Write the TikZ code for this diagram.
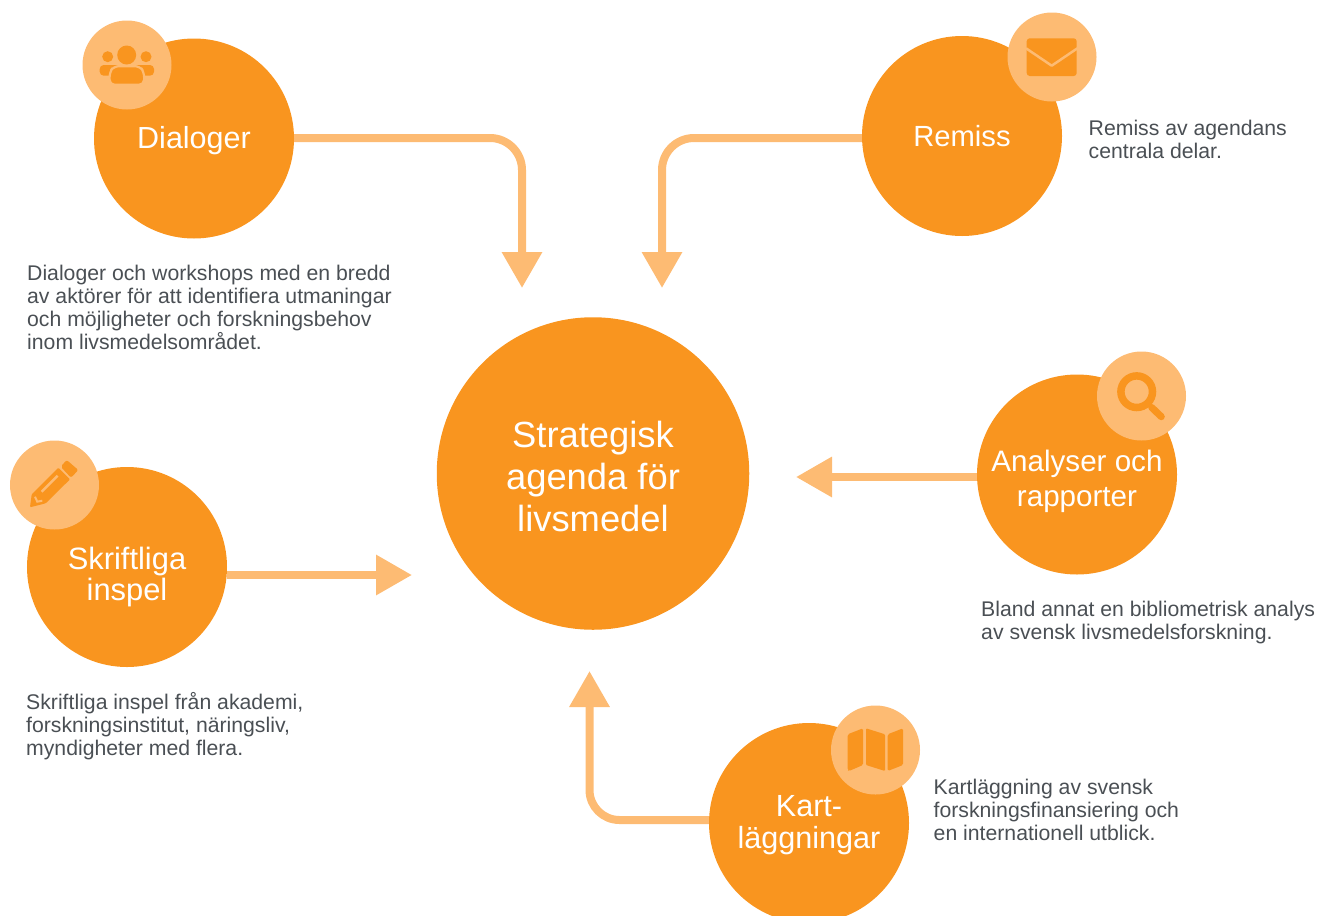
\documentclass[tikz,border=0pt]{standalone}
\usepackage{fontspec}
\setmainfont{Liberation Sans}
\usetikzlibrary{arrows.meta}
\definecolor{orangeM}{HTML}{F9951F}
\definecolor{orangeL}{HTML}{FDBB73}
\definecolor{bodyC}{HTML}{4A4F54}
\tikzset{
  x=1bp,y=-1bp,
  bigc/.style={circle,fill=orangeM,minimum size=200bp,inner sep=0pt},
  ctext/.style={inner sep=0pt,text=white,align=center},
  badge/.style={circle,fill=orangeL,minimum size=89bp,inner sep=0pt},
  conn/.style={draw=orangeL,line width=8bp,-{Triangle[length=36bp,width=38.5bp,fill=orangeL]}},
  desc/.style={anchor=north west,align=left,inner sep=0pt,text=bodyC,font=\fontsize{21.3}{23.1}\selectfont},
  ico/.style={fill=orangeM,draw=none},
}
\begin{document}
\begin{tikzpicture}
\useasboundingbox (0,0) rectangle (1317,915);
\clip (0,0) rectangle (1317,915);
% arrow end points
\coordinate (t1) at (522,288);
\coordinate (t2) at (662,288);
\coordinate (t3) at (796,477);
\coordinate (t4) at (412,575);
\coordinate (t5) at (589.5,671);
\coordinate (s1) at (294,138);
\coordinate (s2) at (862,138);
\coordinate (s3) at (977,477);
\coordinate (s4) at (227,575);
\coordinate (s5) at (709,820);
% connectors
\draw[conn,rounded corners=32bp] (s1) -| (t1);
\draw[conn,rounded corners=32bp] (s2) -| (t2);
\draw[conn] (s3) -- (t3);
\draw[conn] (s4) -- (t4);
\draw[conn,rounded corners=30bp] (s5) -| (t5);
% circles
\node[bigc,minimum size=312.5bp] (main) at (593,473.5) {};
\node[bigc] (dialoger) at (194,138.5) {};
\node[bigc] (remiss) at (962,136) {};
\node[bigc] (analyser) at (1077,474.5) {};
\node[bigc] (skrift) at (127,567) {};
\node[bigc] (kart) at (809,823) {};
% circle texts
\node[ctext,font=\fontsize{36.5}{42.5}\selectfont] (mainT) at (593,476.5) {Strategisk\\agenda för\\livsmedel};
\node[ctext,font=\fontsize{30.6}{33}\selectfont] (dialogerT) at (194,141) {Dialoger};
\node[ctext,font=\fontsize{29.3}{33}\selectfont] (remissT) at (962,136) {Remiss};
\node[ctext,font=\fontsize{29.7}{35}\selectfont] (analyserT) at (1077,481) {Analyser och\\rapporter};
\node[ctext,font=\fontsize{31}{31}\selectfont] (skriftT) at (127,577) {Skriftliga\\inspel};
\node[ctext,font=\fontsize{30.7}{32}\selectfont] (kartT) at (809,825) {Kart-\\läggningar};
% badges
\node[badge] (b1) at (127,65) {};
\node[badge] (b2) at (1052,57) {};
\node[badge] (b3) at (1141.5,396) {};
\node[badge] (b4) at (54.5,485) {};
\node[badge] (b5) at (875.5,750) {};
% people icon
\fill[ico] (126.7,55) circle (9.5);
\fill[ico] (107.7,56.7) circle (5.5);
\fill[ico] (146,56.7) circle (5.5);
\fill[ico,rounded corners=4bp] (99.7,75.7) -- (99.7,65) -- (120,65) -- (120,75.7) -- cycle;
\fill[ico,rounded corners=4bp] (154,75.7) -- (154,65) -- (134,65) -- (134,75.7) -- cycle;
\filldraw[fill=orangeM,draw=orangeL,line width=2.2bp,rounded corners=5bp] (109.6,84.8) -- (109.6,72) -- (114,66.2) -- (139.7,66.2) -- (144.1,72) -- (144.1,84.8) -- cycle;
% envelope icon
\fill[ico,rounded corners=3bp] (1026.7,38.3) rectangle (1076.7,76);
\draw[orangeL,line width=2.5bp,line join=round] (1026,48.3) -- (1051.7,65.7) -- (1077.4,48.3);
% magnifier icon
\draw[orangeM,line width=7.5bp] (1136.7,391.7) circle (15.8);
\draw[orangeM,line width=7bp,line cap=round] (1151.7,407.5) -- (1161.3,416.7);
% pencil icon
\fill[ico,rounded corners=2bp] (66.7,460) -- (78.3,470) -- (71,477.7) -- (60.7,466.7) -- cycle;
\fill[ico,rounded corners=1bp] (58.3,467.7) -- (70,479.3) -- (45.7,503.3) -- (30,507.3) -- (31.7,494.3) -- cycle;
\draw[orangeL,line width=2.5bp] (41.7,491.7) -- (57.7,475.7);
\draw[orangeL,line width=2bp] (35,496.7) -- (37.3,501.7) -- (42.3,500.7);
% map icon
\fill[ico,rounded corners=1.5bp] (847.7,734.3) -- (863,728.3) -- (863,765) -- (849,771) -- (847.7,770) -- cycle;
\fill[ico,rounded corners=1bp] (866,728.3) -- (885,734.3) -- (885,771) -- (866,765) -- cycle;
\fill[ico,rounded corners=1.5bp] (887.7,734.3) -- (903,728.3) -- (903,765) -- (887.7,771) -- cycle;
% descriptions
\node[desc] (d1) at (27,265) {Dialoger och workshops med en bredd\\av aktörer för att identifiera utmaningar\\och möjligheter och forskningsbehov\\inom livsmedelsområdet.};
\node[desc] (d2) at (1088.5,120) {Remiss av agendans\\centrala delar.};
\node[desc] (d3) at (981,601) {Bland annat en bibliometrisk analys\\av svensk livsmedelsforskning.};
\node[desc] (d4) at (26,692.5) {Skriftliga inspel från akademi,\\forskningsinstitut, näringsliv,\\myndigheter med flera.};
\node[desc] (d5) at (933.5,779) {Kartläggning av svensk\\forskningsfinansiering och\\en internationell utblick.};
\end{tikzpicture}
\end{document}
